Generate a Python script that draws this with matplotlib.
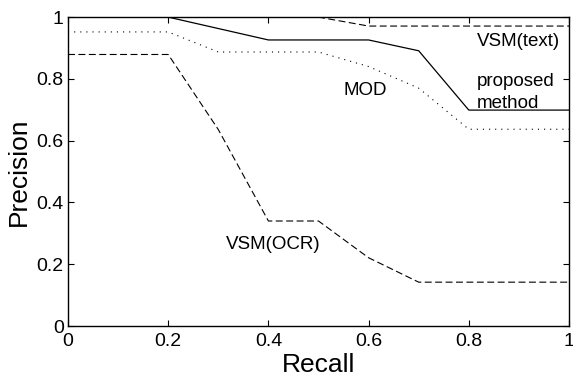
import numpy as np
from matplotlib import pyplot as plt

plt.rcParams['font.family'] = ['Liberation Sans', 'DejaVu Sans']
plt.rcParams['lines.scale_dashes'] = False

recall = [0.0, 0.1, 0.2, 0.3, 0.4, 0.5, 0.6, 0.7, 0.8, 0.9, 1.0]
proposed = [1.0, 1.0, 1.0, 0.963, 0.926, 0.926, 0.926, 0.891, 0.699, 0.699, 0.699]
vsm_text = [1.0, 1.0, 1.0, 1.0, 1.0, 1.0, 0.971, 0.971, 0.971, 0.971, 0.971]
mod = [0.952, 0.952, 0.952, 0.887, 0.887, 0.887, 0.84, 0.77, 0.637, 0.637, 0.637]
vsm_ocr = [0.879, 0.879, 0.879, 0.636, 0.34, 0.34, 0.221, 0.142, 0.142, 0.142, 0.142]

fig = plt.figure(figsize=(5.73, 3.80), dpi=100)
ax = fig.add_axes([0.1187, 0.142, 0.8743, 0.813])

ax.plot(recall, vsm_ocr, color='black', lw=0.8, dashes=(5, 2.5))
ax.plot(recall, mod, color='black', lw=0.8, dashes=(0.8, 3.6))
ax.plot(recall, vsm_text, color='black', lw=0.8, dashes=(5, 2.5))
ax.plot(recall, proposed, color='black', lw=0.9)

# curve labels
ax.text(0.816, 0.921, 'VSM(text)', fontsize=13.5, ha='left', va='center')
ax.text(0.816, 0.79, 'proposed', fontsize=13.5, ha='left', va='center')
ax.text(0.816, 0.72, 'method', fontsize=13.5, ha='left', va='center')
ax.text(0.593, 0.764, 'MOD', fontsize=13.5, ha='center', va='center')
ax.text(0.41, 0.265, 'VSM(OCR)', fontsize=13.5, ha='center', va='center')

ax.set_xlim(0, 1)
ax.set_ylim(0, 1)
ax.set_xticks([0, 0.2, 0.4, 0.6, 0.8, 1])
ax.set_xticklabels(['0', '0.2', '0.4', '0.6', '0.8', '1'])
ax.set_yticks([0, 0.2, 0.4, 0.6, 0.8, 1])
ax.set_yticklabels(['0', '0.2', '0.4', '0.6', '0.8', '1'])
ax.tick_params(direction='in', top=True, right=True, length=4, width=0.8,
               labelsize=14, pad=3)
ax.tick_params(axis='x', pad=5)
for s in ax.spines.values():
    s.set_linewidth(1.0)

ax.set_xlabel('Recall', fontsize=19, labelpad=2)
ax.set_ylabel('Precision', fontsize=19, labelpad=4)

fig.savefig('out.png', dpi=100)
